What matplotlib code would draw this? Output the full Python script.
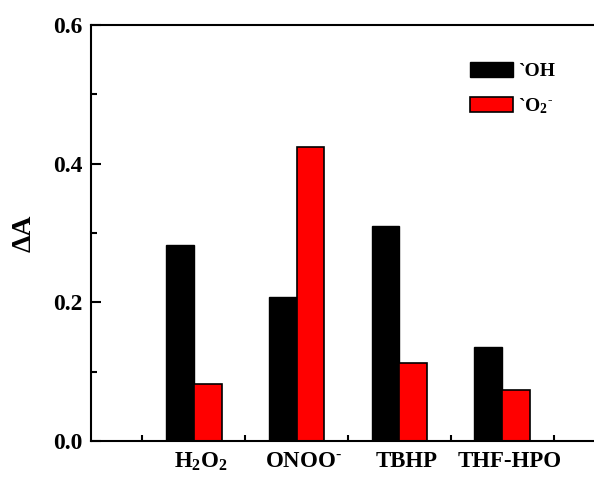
import matplotlib
matplotlib.use("Agg")
import matplotlib.pyplot as plt
import numpy as np
from matplotlib.ticker import MultipleLocator, FixedLocator

plt.rcParams['font.family'] = ['Liberation Serif', 'DejaVu Serif']
plt.rcParams['font.weight'] = 'bold'
plt.rcParams['mathtext.fontset'] = 'custom'
plt.rcParams['mathtext.rm'] = 'Liberation Serif:bold'
plt.rcParams['mathtext.bf'] = 'Liberation Serif:bold'
plt.rcParams['mathtext.it'] = 'Liberation Serif:italic:bold'

categories = ['H$_2$O$_2$', r'ONOO$^{\text{-}}$', 'TBHP', 'THF-HPO']
oh_values = [0.282, 0.208, 0.310, 0.135]
o2_values = [0.082, 0.424, 0.112, 0.073]
series_labels = ['`OH', r'`O$_2$$^{\text{-}}$']
y_ticks = [0.0, 0.2, 0.4, 0.6]

fig = plt.figure(figsize=(5.94, 4.83), dpi=100)
ax = fig.add_axes([0.1532, 0.0870, 1.0185 - 0.1532, 0.9482 - 0.0870])

x = np.arange(1, len(categories) + 1)
w = 0.27
ax.bar(x - w / 2, oh_values, w, color='black', edgecolor='black', linewidth=1, label=series_labels[0])
ax.bar(x + w / 2, o2_values, w, color='#ff0000', edgecolor='black', linewidth=1.2, label=series_labels[1])

ax.set_xlim(0, 5)
ax.set_ylim(0, 0.6)
ax.set_yticks(y_ticks)
ax.set_yticklabels([f'{v:.1f}' for v in y_ticks])
ax.yaxis.set_minor_locator(MultipleLocator(0.1))
ax.set_xticks(x + 0.07)
ax.set_xticklabels(categories)
ax.xaxis.set_minor_locator(FixedLocator(np.arange(0.5, 5.0, 1.0)))

ax.tick_params(axis='y', which='major', direction='in', length=7, width=1.5, labelsize=17, pad=6)
ax.tick_params(axis='y', which='minor', direction='in', length=4, width=1.5)
ax.tick_params(axis='x', which='major', length=0, labelsize=16.5, pad=7)
ax.tick_params(axis='x', which='minor', direction='in', length=4, width=1.5)
for lab in ax.get_xticklabels() + ax.get_yticklabels():
    lab.set_fontweight('bold')

for s in ax.spines.values():
    s.set_linewidth(1.5)

ax.set_ylabel('ΔA', fontsize=20, fontweight='bold', labelpad=12)

leg = ax.legend(loc='upper left', bbox_to_anchor=(0.703, 0.953), frameon=False,
                fontsize=14, handlelength=2.2, handleheight=0.8, handletextpad=0.3,
                labelspacing=0.8)

fig.savefig('out.png', dpi=100)
